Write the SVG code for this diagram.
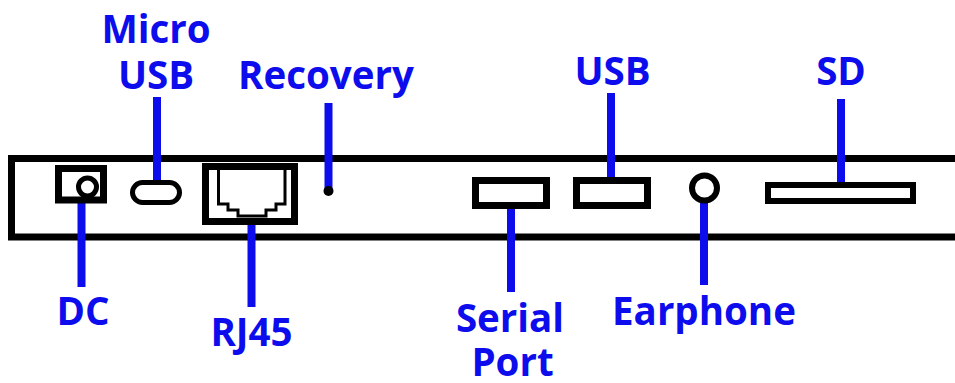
<svg xmlns="http://www.w3.org/2000/svg" width="955" height="383" viewBox="0 0 955 383">
<style>
.lbl{font-family:"Open Sans","Liberation Sans",sans-serif;font-weight:bold;font-size:38.5px;fill:#0c0cec;text-anchor:middle}
.conn{stroke:#0c0cec;stroke-width:8;fill:none}
.blk{stroke:#000;fill:#fff}
</style>
<rect width="955" height="383" fill="#fff"/>
<g id="panel">
<rect x="11.5" y="158.5" width="960" height="78.5" fill="#fff" stroke="#000" stroke-width="7"/>
</g>
<g id="connectors">
<line class="conn" x1="81.5" y1="203" x2="81.5" y2="287"/>
<line class="conn" x1="157" y1="97" x2="157" y2="181"/>
<line class="conn" x1="251.5" y1="224" x2="251.5" y2="307"/>
<line class="conn" x1="328.5" y1="103" x2="328.5" y2="190"/>
<line class="conn" x1="511" y1="209" x2="511" y2="292"/>
<line class="conn" x1="611" y1="93" x2="611" y2="178"/>
<line class="conn" x1="704" y1="203" x2="704" y2="285"/>
<line class="conn" x1="841" y1="99" x2="841" y2="183"/>
</g>
<g id="dc">
<rect x="58.5" y="168.5" width="45" height="31.5" fill="#fff" stroke="#000" stroke-width="7"/>
<circle cx="87.5" cy="187" r="9" fill="#fff" stroke="#000" stroke-width="5"/>
<text class="lbl" x="83" y="325">DC</text>
</g>
<g id="microusb">
<rect x="132.5" y="182.5" width="47" height="20" rx="10" class="blk" stroke-width="5"/>
<text class="lbl" x="156" y="43">Micro</text>
<text class="lbl" x="156" y="89">USB</text>
</g>
<g id="rj45">
<rect x="205.5" y="166.5" width="89" height="55" class="blk" stroke-width="7"/>
<path d="M218.5,168.5 H285 V204 H276 V210 H266 V216 H238 V210 H228 V204 H218.5 Z" fill="#fff" stroke="#000" stroke-width="3"/>
<text class="lbl" x="251.5" y="346">RJ45</text>
</g>
<g id="recovery">
<circle cx="328.5" cy="191" r="5" fill="#000"/>
<text class="lbl" x="326" y="89">Recovery</text>
</g>
<g id="serial">
<rect x="475.5" y="180.5" width="71" height="25" class="blk" stroke-width="7"/>
<text class="lbl" x="510" y="332">Serial</text>
<text class="lbl" x="512.5" y="376">Port</text>
</g>
<g id="usb">
<rect x="576.5" y="180.5" width="71" height="25" class="blk" stroke-width="7"/>
<text class="lbl" x="612.5" y="85">USB</text>
</g>
<g id="earphone">
<circle cx="704.5" cy="188" r="12.5" class="blk" stroke-width="6"/>
<text class="lbl" x="704" y="325">Earphone</text>
</g>
<g id="sd">
<rect x="768" y="185" width="145" height="16" class="blk" stroke-width="6"/>
<text class="lbl" x="841" y="85">SD</text>
</g>
</svg>
